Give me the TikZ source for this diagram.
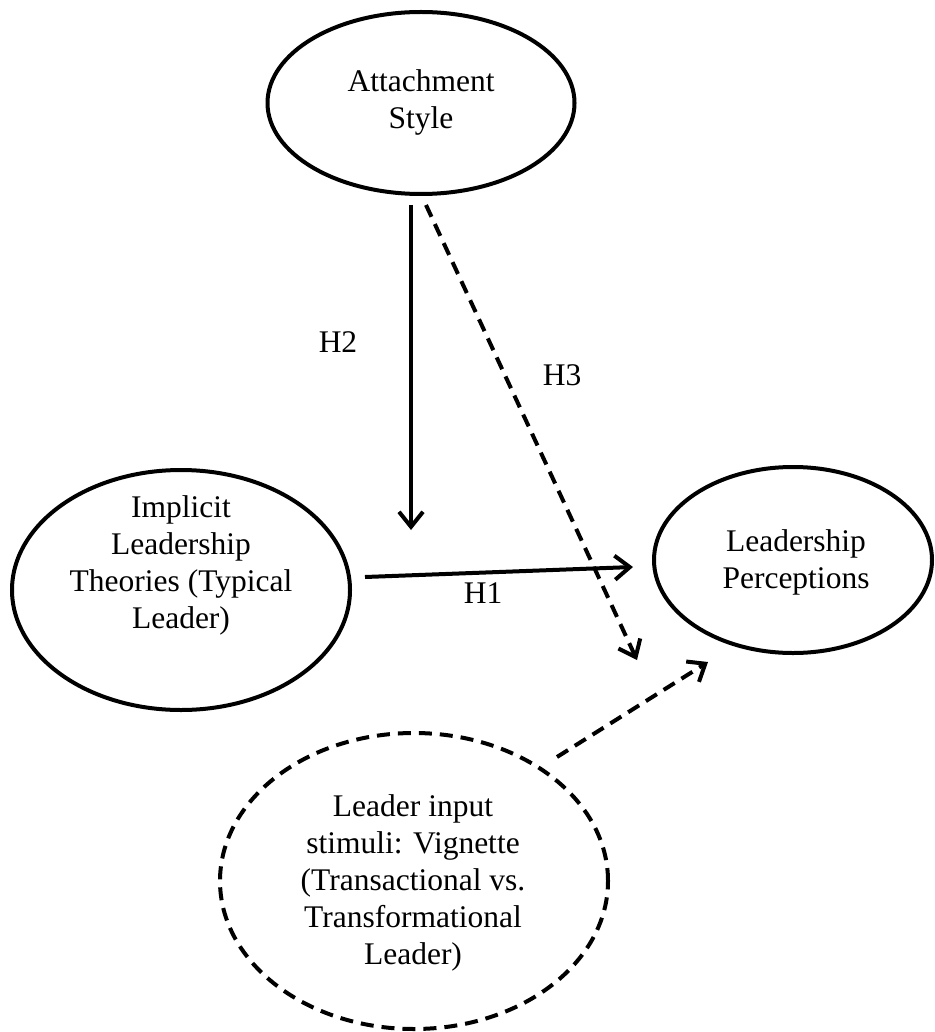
\documentclass[tikz,border=0pt]{standalone}
\usepackage{fontspec}
\setmainfont{Liberation Serif}
\usetikzlibrary{shapes.geometric,arrows.meta}

\begin{document}
\begin{tikzpicture}[x=1pt,y=-1pt,
  every node/.style={font=\fontsize{31.5}{37}\selectfont},
  construct/.style={ellipse, draw, line width=4pt, inner sep=0pt},
  latent/.style={construct, dash pattern=on 13pt off 8pt},
  caption/.style={align=center, inner sep=0pt},
  hyp/.style={anchor=base, inner sep=0pt},
  path/.style={line width=4pt, -{Straight Barb[length=15pt,width=24pt,line width=4pt]}},
  dpath/.style={path, dash pattern=on 13pt off 8pt}
]
\useasboundingbox (0,0) rectangle (934,1032);

% constructs
\node[construct, minimum width=307pt, minimum height=182pt] (att) at (421,103) {};
\node[caption] (att-t) at (421,102) {Attachment\\Style};

\node[construct, minimum width=338pt, minimum height=240pt] (ilt) at (181,590) {};
\node[caption] (ilt-t) at (181,565) {Implicit\\Leadership\\Theories (Typical\\Leader)};

\node[construct, minimum width=278pt, minimum height=186pt] (lp) at (793,560) {};
\node[caption] (lp-t) at (796,562) {Leadership\\Perceptions};

\node[latent, minimum width=388pt, minimum height=296pt] (vig) at (414,881) {};
\node[caption] (vig-t) at (413,883) {Leader input\\stimuli: Vignette\\(Transactional vs.\\Transformational\\Leader)};

% connector end points
\coordinate (h2s) at (411,205);
\coordinate (h2e) at (411,530);
\coordinate (h3s) at (426,205);
\coordinate (h3e) at (637,660);
\coordinate (h1s) at (365,577);
\coordinate (h1e) at (633,567);
\coordinate (vs)  at (557,757);
\coordinate (ve)  at (708,662);

% hypothesised paths
\draw[path] (h2s) -- (h2e);
\draw[dpath] (h3s) -- (h3e);
\draw[path] (h1s) -- (h1e);
\draw[dpath] (vs) -- (ve);

% path labels
\node[hyp] (h2) at (338,352) {H2};
\node[hyp] (h3) at (562,385) {H3};
\node[hyp] (h1) at (483,603) {H1};
\end{tikzpicture}
\end{document}
